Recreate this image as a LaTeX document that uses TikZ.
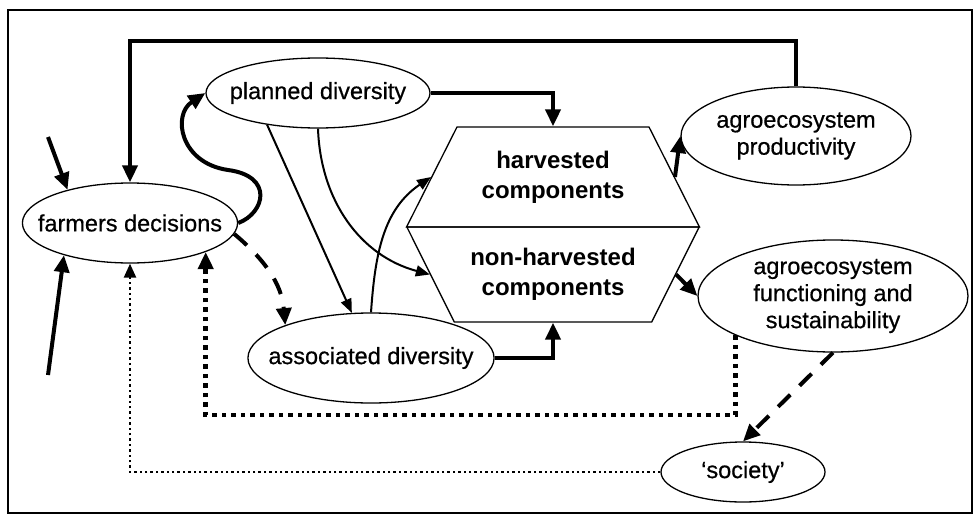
\documentclass[tikz,border=0pt]{standalone}
\usepackage{fontspec}
\setmainfont{Liberation Sans}
\newfontfamily\labelfont{Liberation Sans}[FakeBold=0.6]
\usetikzlibrary{shapes.geometric,arrows.meta}

\begin{document}
\begin{tikzpicture}[x=1pt,y=-1pt,
    every node/.style={ellipse, draw, line width=1.3pt, inner sep=0pt, align=center, font=\labelfont\fontsize{23.5}{27}\selectfont},
    comp/.style={trapezium, trapezium stretches=true, minimum width=293pt, font=\bfseries\fontsize{24}{30}\selectfont},
    heavy/.style={line width=4pt, -{Triangle[length=17pt,width=15pt]}},
    light/.style={line width=2pt, -{Triangle[length=14pt,width=11pt]}},
    longdash/.style={dash pattern=on 17pt off 13pt},
    bigdots/.style={line width=4.5pt, dash pattern=on 4.5pt off 5pt, -{Triangle[length=17pt,width=15pt]}},
    smalldots/.style={line width=2.4pt, dash pattern=on 2.4pt off 3pt, -{Triangle[length=14pt,width=12pt]}}]

      \useasboundingbox (0,0) rectangle (976,519);
      \draw[line width=1.8pt] (8,10) rectangle (972,513);

      \node (fd) at (130,223) [inner xsep=-16pt, minimum width=215pt, minimum height=80pt] {farmers decisions};
      \node (pd) at (318,93) [inner xsep=-9pt, minimum width=224pt, minimum height=70pt] {planned diversity};
      \node (ad) at (371,358) [inner xsep=-15.5pt, minimum width=246pt, minimum height=90pt] {associated diversity};

      \node (harv) at (553,177) [comp, minimum height=100pt, trapezium left angle=54.4, trapezium right angle=54.4] {harvested\\components};
      \node (nonh) at (553,274.5) [comp, minimum height=95pt, trapezium left angle=127.2, trapezium right angle=127.2] {non-harvested\\components};

      \node (prod) at (796,136) [minimum width=230pt, minimum height=98pt] {agroecosystem\\productivity};
      \node (func) at (833,296) [minimum width=270pt, minimum height=112pt] {agroecosystem\\functioning and\\sustainability};
      \node (soc) at (743,472) [minimum width=164pt, minimum height=60pt] {‘society’};

      \coordinate (in1) at (48,137);
      \coordinate (in2) at (48,375);
      \coordinate (toprun) at (0,41);
      \coordinate (lowrun) at (0,415);

      \draw[heavy] (prod.north) -- (prod.north |- toprun) -| (fd.north);
      \draw[heavy] (in1) -- (fd.152);
      \draw[heavy] (in2) -- (fd.206);
      \draw[heavy] (fd.east) .. controls (265,213) and (274,176) .. (228,170)
                   .. controls (180,163) and (172,115) .. (pd.west);
      \draw[heavy, longdash] (fd.-6) to[out=-40, in=95] (ad.159);

      \draw[heavy] (pd.east) -| (harv.north);
      \draw[heavy] (ad.east) -| (nonh.south);
      \draw[light] (pd.212) -- (ad.113);
      \draw[light] (pd.south) to[out=-88, in=165] (nonh.west);
      \draw[light] (ad.north) to[out=86, in=214] (harv.west);

      \draw[heavy] (harv.east) -- (prod.west);
      \draw[heavy] (nonh.east) -- (func.west);
      \draw[heavy, longdash] (func.south) -- (soc.north);

      \draw[bigdots] (func.202) -- (func.202 |- lowrun) -| (fd.339);
      \draw[smalldots] (soc.west) -| (fd.south);
    \end{tikzpicture}
\end{document}
